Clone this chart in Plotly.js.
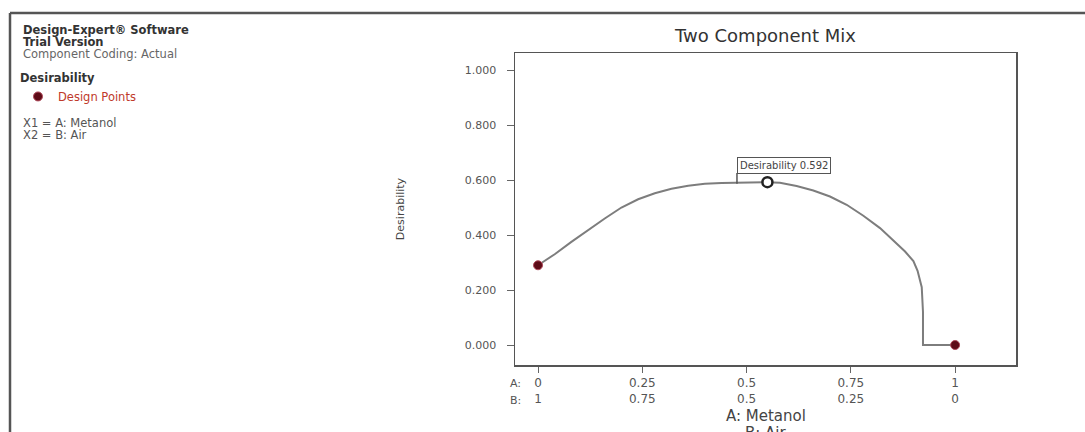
<!DOCTYPE html>
<html>
<head>
<meta charset="utf-8">
<script src="https://cdn.plot.ly/plotly-3.0.1.min.js"></script>
<style>
html,body{margin:0;padding:0;background:#fff;}
#chart{width:1085px;height:432px;}
</style>
</head>
<body>
<div id="chart"></div>
<script>
// ---- data ----
const mixA = [0, 0.04, 0.08, 0.12, 0.16, 0.20, 0.24, 0.28, 0.32, 0.36, 0.40, 0.44, 0.48, 0.52, 0.55, 0.58, 0.62, 0.66, 0.70, 0.74, 0.78, 0.82, 0.86, 0.88, 0.90, 0.91, 0.92, 0.923, 0.923, 0.96, 1];
const desirability = [0.29, 0.33, 0.375, 0.418, 0.46, 0.5, 0.53, 0.552, 0.568, 0.579, 0.586, 0.589, 0.591, 0.592, 0.592, 0.59, 0.578, 0.562, 0.54, 0.51, 0.47, 0.425, 0.37, 0.34, 0.305, 0.27, 0.21, 0.12, 0, 0, 0];
const designA = [0, 1];
const designDesir = [0.29, 0];
const optimumA = [0.55];
const optimumDesir = [0.592];
const flagLabel = "Desirability 0.592";
const tickValsA = [0, 0.25, 0.5, 0.75, 1];
const tickLabelsA = ["0", "0.25", "0.5", "0.75", "1"];
const tickLabelsB = ["1", "0.75", "0.5", "0.25", "0"];
const yTicks = [0, 0.2, 0.4, 0.6, 0.8, 1.0];
const xTitleLines = ["A: Metanol", "B: Air"];

// ---- geometry helpers (pixel -> paper) ----
const L = 515, R = 1016, T = 53, B = 365;
const px = x => (x - L) / (R - L);
const py = y => (B - y) / (B - T);

const font = "DejaVu Sans, Verdana, sans-serif";

const traces = [
  {
    x: mixA, y: desirability, type: 'scatter', mode: 'lines',
    line: {color: '#7d7d7d', width: 2}, showlegend: false, hoverinfo: 'skip'
  },
  {
    x: designA, y: designDesir, type: 'scatter', mode: 'markers', name: 'Design Points',
    marker: {color: '#5e0b17', size: 9, line: {color: '#b0485a', width: 1}},
    showlegend: true, cliponaxis: false
  },
  {
    x: optimumA, y: optimumDesir, type: 'scatter', mode: 'markers',
    marker: {color: '#ffffff', size: 10, line: {color: '#222', width: 2.5}},
    showlegend: false
  }
];

const tickText = tickLabelsA.map((a, i) => a + '<br>' + tickLabelsB[i]);

const leftLines = [
  {t: '<b>Design-Expert® Software</b>', y: 30, c: '#333'},
  {t: '<b>Trial Version</b>', y: 42, c: '#333'},
  {t: 'Component Coding: Actual', y: 54, c: '#666'},
  {t: 'X1 = A: Metanol', y: 123, c: '#555'},
  {t: 'X2 = B: Air', y: 135, c: '#555'}
];

const annotations = leftLines.map(l => ({
  xref: 'paper', yref: 'paper', x: px(21), y: py(l.y), xanchor: 'left', yanchor: 'middle',
  text: l.t, showarrow: false, font: {family: font, size: 11.5, color: l.c}
}));

annotations.push(
  {xref: 'paper', yref: 'paper', x: px(523), y: py(383), xanchor: 'right', yanchor: 'middle',
   text: 'A:', showarrow: false, font: {family: font, size: 11, color: '#555'}},
  {xref: 'paper', yref: 'paper', x: px(523), y: py(400), xanchor: 'right', yanchor: 'middle',
   text: 'B:', showarrow: false, font: {family: font, size: 11, color: '#555'}},
  {xref: 'paper', yref: 'paper', x: 0.5, y: py(416), xanchor: 'center', yanchor: 'middle',
   text: xTitleLines[0], showarrow: false, font: {family: font, size: 15, color: '#444'}},
  {xref: 'paper', yref: 'paper', x: 0.5, y: py(433), xanchor: 'center', yanchor: 'middle',
   text: xTitleLines[1], showarrow: false, font: {family: font, size: 15, color: '#444'}},
  {xref: 'x', yref: 'y', x: 0.477, y: 0.653, xanchor: 'left', yanchor: 'middle',
   text: flagLabel, showarrow: false, bordercolor: '#555', borderwidth: 1, borderpad: 2,
   bgcolor: '#fff', font: {family: font, size: 10, color: '#444'}}
);

const layout = {
  width: 1085, height: 432,
  margin: {l: L, r: 1085 - R, t: T, b: 432 - B},
  paper_bgcolor: '#fff', plot_bgcolor: '#fff',
  font: {family: font, color: '#555'},
  title: {text: 'Two Component Mix', x: 0.5, xref: 'paper', y: 1 - 36/432, yanchor: 'middle',
          font: {family: font, size: 18, color: '#333'}},
  showlegend: true,
  legend: {
    x: px(18), y: py(67), xanchor: 'left', yanchor: 'top',
    title: {text: '<b>Desirability</b>', font: {family: font, size: 11.5, color: '#333'}},
    font: {family: font, size: 11.5, color: '#c0392b'},
    bgcolor: 'rgba(0,0,0,0)', itemwidth: 30
  },
  xaxis: {
    range: [-0.0552, 1.146], tickvals: tickValsA, ticktext: tickText,
    ticks: 'outside', ticklen: 6, tickcolor: '#666', tickwidth: 1,
    showline: true, linecolor: '#555', linewidth: 1.5, mirror: true,
    showgrid: false, zeroline: false, automargin: false,
    tickfont: {family: font, size: 12, color: '#555'}
  },
  yaxis: {
    range: [-0.0727, 1.0618], tickvals: yTicks, tickformat: '.3f',
    ticks: 'outside', ticklen: 7, tickcolor: '#666', tickwidth: 1, ticklabelstandoff: 8,
    showline: true, linecolor: '#555', linewidth: 1.5, mirror: true,
    showgrid: false, zeroline: false, automargin: true,
    tickfont: {family: font, size: 11, color: '#555'},
    title: {text: 'Desirability', font: {family: font, size: 11, color: '#444'}, standoff: 58}
  },
  shapes: [
    {type: 'line', xref: 'x', yref: 'y', x0: 0.477, x1: 0.477, y0: 0.586, y1: 0.625,
     line: {color: '#555', width: 1.5}},
    {type: 'line', xref: 'paper', yref: 'paper', x0: px(10), x1: px(1090), y0: py(13), y1: py(13),
     line: {color: '#555', width: 2.5}},
    {type: 'line', xref: 'paper', yref: 'paper', x0: px(10), x1: px(10), y0: py(13), y1: py(440),
     line: {color: '#555', width: 2.5}}
  ],
  annotations: annotations
};

Plotly.newPlot('chart', traces, layout, {displayModeBar: false, staticPlot: true});
</script>
</body>
</html>
